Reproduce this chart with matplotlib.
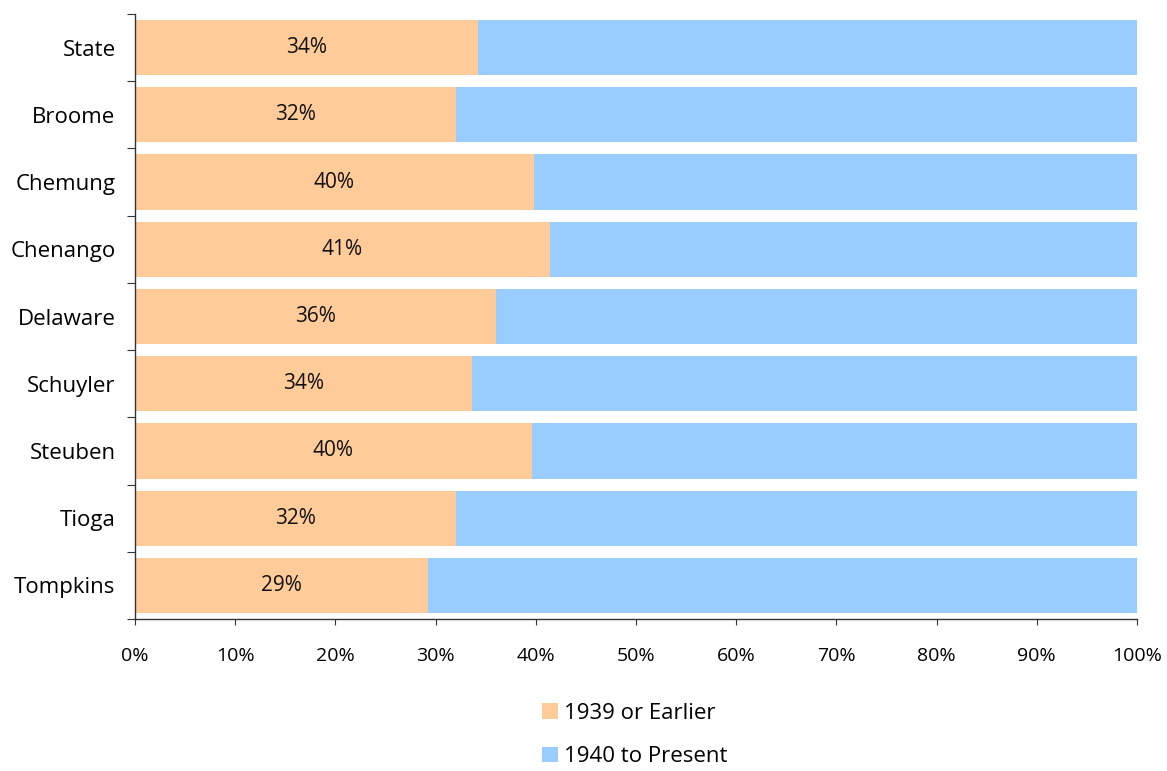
import matplotlib
matplotlib.use("Agg")
import matplotlib.pyplot as plt
import numpy as np
from matplotlib.patches import Patch

plt.rcParams['font.family'] = ['Open Sans', 'DejaVu Sans']

counties = ["State", "Broome", "Chemung", "Chenango", "Delaware",
            "Schuyler", "Steuben", "Tioga", "Tompkins"]
pre_1940 = [34.2, 32.0, 39.8, 41.4, 36.0, 33.6, 39.6, 32.0, 29.2]
post_1940 = [100 - v for v in pre_1940]
series_names = ["1939 or Earlier", "1940 to Present"]
colors = ["#FFCC99", "#99CCFF"]
x_ticks = list(range(0, 101, 10))

W, H = 1167, 771
fig = plt.figure(figsize=(W / 100, H / 100), dpi=100)
ax = fig.add_axes([135 / W, 1 - 619 / H, (1137 - 135) / W, (619 - 14) / H])

n = len(counties)
y = np.arange(n)[::-1]
h = 0.82
ax.barh(y, pre_1940, height=h, color=colors[0], edgecolor="none")
ax.barh(y, post_1940, left=pre_1940, height=h, color=colors[1], edgecolor="none")

for yi, v in zip(y, pre_1940):
    ax.text(v / 2, yi, f"{v:.0f}%", ha="center", va="center", fontsize=15, color="#111111")

ax.set_xlim(0, 100)
ax.set_ylim(-0.5, n - 0.5)
ax.set_xticks(x_ticks)
ax.set_xticklabels([f"{t}%" for t in x_ticks], fontsize=14)

# category boundaries carry the tick marks, centers carry the labels
ax.set_yticks(np.arange(-0.5, n, 1.0))
ax.set_yticklabels([])
ax.set_yticks(y, minor=True)
ax.set_yticklabels(counties, minor=True, fontsize=16)
ax.tick_params(axis="y", which="minor", length=0, pad=14)
ax.tick_params(axis="y", which="major", length=5.8, direction="out", color="#333333")
ax.tick_params(axis="x", length=4.5, direction="out", color="#333333", pad=16)

for s in ["top", "right"]:
    ax.spines[s].set_visible(False)
for s in ["left", "bottom"]:
    ax.spines[s].set_color("#333333")
    ax.spines[s].set_linewidth(1.0)

handles = [Patch(facecolor=c, edgecolor="none") for c in colors]
fig.legend(handles, series_names, loc="center", bbox_to_anchor=(635 / W, 1 - 735 / H),
           ncol=1, frameon=False, fontsize=16, handlelength=0.72, handleheight=0.68,
           handletextpad=0.27, labelspacing=1.0, borderpad=0, borderaxespad=0)

fig.savefig("out.png", dpi=100)
